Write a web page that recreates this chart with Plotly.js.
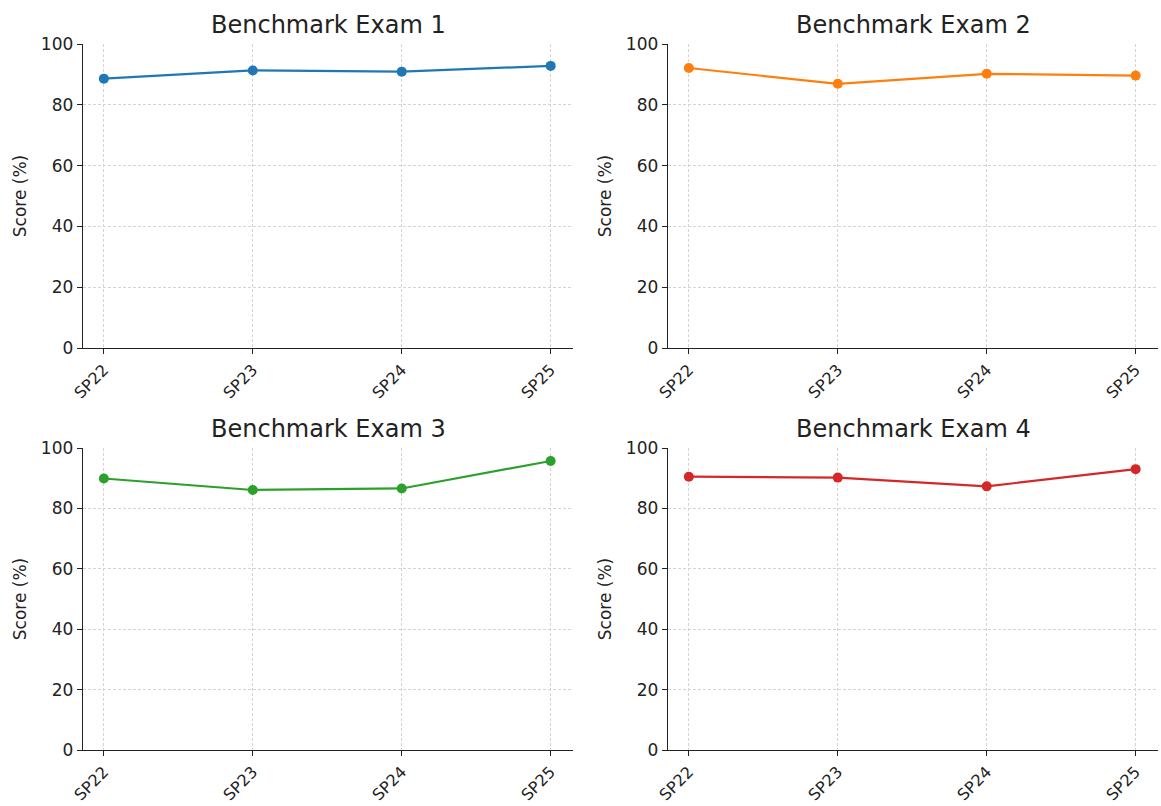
<!DOCTYPE html>
<html>
<head>
<meta charset="utf-8">
<script src="https://cdn.plot.ly/plotly-3.0.1.min.js"></script>
<style>html,body{margin:0;padding:0;background:#fff;}#chart{width:1161px;height:806px;}</style>
</head>
<body>
<div id="chart"></div>
<script>
const semesters = ["SP22", "SP23", "SP24", "SP25"];
const exam1 = [88.6, 91.3, 90.9, 92.8];
const exam2 = [92.1, 86.9, 90.2, 89.6];
const exam3 = [89.9, 86.1, 86.6, 95.7];
const exam4 = [90.5, 90.2, 87.3, 93.0];
const titles = ["Benchmark Exam 1", "Benchmark Exam 2", "Benchmark Exam 3", "Benchmark Exam 4"];
const colors = ["#1f77b4", "#ff7f0e", "#2ca02c", "#d62728"];
const yTicks = [0, 20, 40, 60, 80, 100];

const series = [exam1, exam2, exam3, exam4];
const W = 1161, H = 806;
const xDomains = [[83 / W, 573 / W], [668 / W, 1158 / W]];
const yDomains = [[1 - 348 / H, 1 - 44 / H], [1 - 750 / H, 1 - 448 / H]];
const font = "DejaVu Sans, sans-serif";

const data = [];
const layout = {
  width: W, height: H,
  margin: {l: 0, r: 0, t: 0, b: 0},
  paper_bgcolor: "#fff", plot_bgcolor: "#fff",
  showlegend: false,
  font: {family: font, color: "#222", size: 17},
  annotations: []
};

series.forEach((vals, i) => {
  const col = i % 2, row = Math.floor(i / 2);
  const n = i + 1;
  const xa = n === 1 ? "x" : "x" + n;
  const ya = n === 1 ? "y" : "y" + n;
  data.push({
    x: semesters.map((_, k) => k), y: vals,
    xaxis: xa, yaxis: ya,
    type: "scatter", mode: "lines+markers",
    line: {color: colors[i], width: 2.2},
    marker: {color: colors[i], size: 10},
    cliponaxis: false
  });
  layout["xaxis" + (n === 1 ? "" : n)] = {
    domain: xDomains[col], anchor: ya,
    range: [-0.14, 3.15],
    tickmode: "array", tickvals: semesters.map((_, k) => k), ticktext: semesters,
    tickangle: -45,
    ticks: "outside", ticklen: 5, tickcolor: "#222",
    showline: true, linecolor: "#222", linewidth: 1.3,
    showgrid: true, gridcolor: "#d4d4d4", griddash: "3px,2px", gridwidth: 1,
    zeroline: false,
    tickfont: {family: font, size: 16, color: "#222"}
  };
  layout["yaxis" + (n === 1 ? "" : n)] = {
    domain: yDomains[row], anchor: xa,
    range: [0, 100],
    tickmode: "array", tickvals: yTicks,
    ticks: "outside", ticklen: 5, tickcolor: "#222",
    showline: true, linecolor: "#222", linewidth: 1.3,
    showgrid: true, gridcolor: "#d4d4d4", griddash: "3px,2px", gridwidth: 1,
    zeroline: false,
    tickfont: {family: font, size: 17, color: "#222"},
    title: {text: "Score (%)", font: {family: font, size: 17, color: "#222"}, standoff: 10}
  };
  layout.annotations.push({
    text: titles[i], xref: "paper", yref: "paper",
    x: (xDomains[col][0] + xDomains[col][1]) / 2, xanchor: "center",
    y: yDomains[row][1], yanchor: "bottom", yshift: 3,
    showarrow: false,
    font: {family: font, size: 24, color: "#222"}
  });
});

Plotly.newPlot("chart", data, layout, {displayModeBar: false, staticPlot: true});
</script>
</body>
</html>
